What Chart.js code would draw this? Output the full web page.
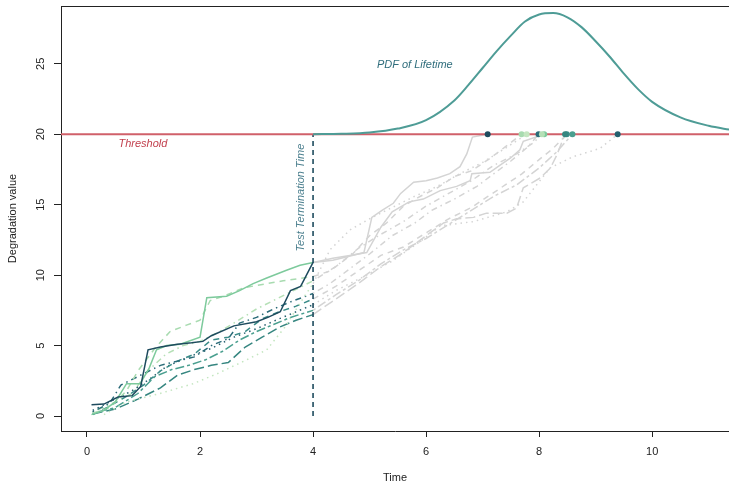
<!DOCTYPE html>
<html>
<head>
<meta charset="utf-8">
<script src="https://cdn.jsdelivr.net/npm/chart.js@4.4.0/dist/chart.umd.min.js"></script>
<style>
html, body { margin: 0; padding: 0; background: #fff; overflow: hidden; }
canvas { display: block; }
</style>
</head>
<body>
<canvas id="myChart" width="729" height="485"></canvas>
<script>
// axis ticks
var tickX = [0, 2, 4, 6, 8, 10];
var tickY = [0, 5, 10, 15, 20, 25];
var threshold = 20;
var stopTime = 4;

// pdf of lifetime
var pdfTime = [4, 4.5, 5, 5.5, 6, 6.5, 6.75, 7, 7.25, 7.5, 7.75, 8, 8.25, 8.5, 8.75, 9, 9.25, 9.5, 9.75, 10, 10.5, 11, 11.4];
var pdfValue = [20.0, 20.03, 20.12, 20.4, 21.0, 22.4, 23.5, 24.7, 25.9, 27.0, 28.0, 28.5, 28.6, 28.3, 27.6, 26.6, 25.5, 24.3, 23.2, 22.3, 21.2, 20.6, 20.3];

// degradation paths
var time1 = [0.08, 0.3, 0.55, 0.8, 0.95, 1.08, 1.3, 1.6, 1.85, 2.05, 2.2, 2.6, 3.0, 3.2, 3.42, 3.6, 3.78, 4.0, 4.35, 4.9, 5.04, 5.22, 5.42, 5.55, 5.78, 6.0, 6.2, 6.42, 6.6, 6.72, 6.82, 7.09];
var value1 = [0.8, 0.85, 1.35, 1.45, 2.1, 4.7, 4.9, 5.1, 5.2, 5.3, 5.7, 6.4, 6.7, 7.0, 7.4, 8.9, 9.2, 10.9, 11.05, 11.6, 14.1, 14.6, 15.1, 15.8, 16.6, 16.7, 16.9, 17.2, 17.7, 18.6, 19.8, 20];
var time2 = [0.08, 0.3, 0.5, 0.7, 0.94, 1.1, 1.23, 1.41, 1.65, 2.0, 2.12, 2.47, 2.7, 2.94, 3.18, 3.53, 3.77, 4.0, 4.35, 4.65, 4.95, 5.2, 5.4, 5.7, 5.95, 6.25, 6.54, 6.78, 6.81, 7.13, 7.31, 7.49, 7.66, 7.72, 8.09];
var value2 = [0.1, 0.4, 1.0, 2.3, 2.3, 3.4, 4.7, 5.0, 5.1, 5.6, 8.4, 8.5, 8.9, 9.4, 9.8, 10.35, 10.7, 10.9, 11.2, 11.4, 11.6, 13.4, 14.5, 15.2, 15.4, 16.0, 16.3, 16.7, 17.2, 17.3, 17.8, 18.3, 18.9, 19.5, 20];
var time3 = [0.1, 0.4, 0.7, 0.9, 1.2, 1.47, 1.76, 2.0, 2.18, 2.41, 2.77, 3.18, 3.47, 4.0, 4.3, 4.7, 5.0, 5.3, 5.6, 5.9, 6.2, 6.5, 6.8, 7.1, 7.4, 7.69];
var value3 = [0.2, 0.6, 1.8, 3.2, 4.8, 6.0, 6.45, 6.8, 8.2, 8.5, 9.1, 9.4, 9.6, 9.9, 10.3, 11.5, 12.8, 13.7, 14.9, 15.6, 16.2, 17.0, 17.4, 18.2, 19.1, 20];
var time4 = [0.3, 0.7, 1.29, 1.88, 2.3, 2.83, 3.18, 3.5, 3.8, 4.0, 4.3, 4.65, 5.0, 5.4, 5.8, 6.2, 6.6, 7.0, 7.4, 7.78];
var value4 = [0.1, 1.0, 1.6, 2.3, 3.0, 4.0, 4.7, 6.3, 8.2, 9.4, 11.8, 13.2, 14.0, 14.8, 15.6, 16.3, 17.2, 18.0, 19.0, 20];
var time5 = [0.1, 0.4, 0.6, 0.8, 1.0, 1.3, 1.6, 1.9, 2.2, 2.5, 2.7, 3.0, 3.3, 3.6, 4.0, 4.3, 4.7, 5.0, 5.4, 5.8, 6.1, 6.5, 6.9, 7.2, 7.5, 7.8, 7.99];
var value5 = [0.3, 0.9, 2.2, 2.6, 3.0, 3.6, 3.9, 4.2, 5.0, 5.5, 6.6, 7.0, 7.6, 8.1, 8.7, 9.4, 10.6, 11.5, 12.8, 13.7, 14.6, 15.4, 16.3, 17.2, 18.1, 19.1, 20];
var time6 = [0.1, 0.4, 0.7, 1.0, 1.3, 1.6, 1.9, 2.2, 2.5, 2.8, 3.1, 3.4, 3.7, 4.0, 4.4, 4.8, 5.2, 5.6, 6.0, 6.4, 6.8, 7.1, 7.4, 7.7, 8.0, 8.25, 8.49];
var value6 = [0.1, 0.7, 1.4, 2.2, 3.2, 3.9, 4.4, 5.4, 5.6, 6.0, 6.9, 7.4, 7.8, 8.3, 9.2, 10.3, 11.4, 12.0, 13.0, 14.0, 14.8, 15.6, 16.4, 17.2, 18.2, 19.0, 20];
var time7 = [0.1, 0.4, 0.8, 1.1, 1.4, 1.8, 2.2, 2.6, 3.0, 3.4, 3.7, 4.0, 4.4, 4.9, 5.4, 5.9, 6.25, 6.84, 7.43, 7.72, 8.19, 8.6, 9.08, 9.39];
var value7 = [0.4, 1.0, 1.8, 2.6, 3.5, 4.2, 4.8, 5.6, 6.2, 6.9, 7.4, 7.9, 8.9, 9.9, 11.0, 12.4, 13.5, 13.8, 14.5, 15.2, 17.6, 18.4, 19.0, 20];
var time8 = [0.1, 0.5, 0.9, 1.2, 1.5, 1.8, 2.1, 2.4, 2.7, 3.0, 3.3, 3.6, 4.0, 4.4, 4.8, 5.2, 5.6, 6.0, 6.4, 6.8, 7.2, 7.6, 8.0, 8.3, 8.59];
var value8 = [0.2, 0.6, 1.6, 2.8, 3.3, 3.6, 4.0, 4.6, 5.4, 6.0, 6.5, 7.0, 7.5, 8.6, 9.6, 10.8, 11.8, 12.6, 13.6, 14.6, 15.6, 16.4, 17.6, 18.7, 20];
var time9 = [0.1, 0.5, 0.9, 1.3, 1.6, 1.9, 2.2, 2.5, 2.8, 3.1, 3.4, 3.7, 4.0, 4.4, 4.8, 5.2, 5.6, 6.0, 6.31, 6.54, 6.84, 7.07, 7.43, 7.6, 7.72, 8.02, 8.2, 8.31, 8.46];
var value9 = [0.15, 0.5, 1.2, 2.0, 2.9, 3.3, 3.6, 3.8, 4.9, 5.6, 6.3, 6.8, 7.2, 8.3, 9.4, 10.6, 11.6, 12.8, 13.7, 14.0, 14.1, 14.4, 14.4, 14.75, 16.2, 16.9, 17.6, 18.5, 20];
var time10 = [0.1, 0.4, 0.8, 1.1, 1.4, 1.7, 2.0, 2.3, 2.6, 3.0, 3.4, 3.7, 4.0, 4.4, 4.8, 5.2, 5.6, 6.0, 6.4, 6.8, 7.2, 7.6, 7.9, 8.05];
var value10 = [0.3, 0.8, 1.6, 3.3, 4.4, 5.0, 5.3, 5.9, 6.6, 7.6, 8.4, 9.0, 9.6, 10.6, 11.9, 12.9, 13.8, 14.9, 15.8, 16.7, 17.8, 18.6, 19.4, 20];

var pathColors = ['#1e4b5e', '#7dca9c', '#a8dbb0', '#c4e6c0', '#2a6b78', '#3a8c88', '#245f6e', '#4a9f8f', '#368680', '#b5e0b6'];
var dotted = [1.5, 4], dashed = [6, 5], dotdash = [1.5, 4, 6, 4], longdash = [10, 4], twodash = [3, 3, 9, 3];
var pathDash = [[], [], dashed, dotted, dotdash, dashed, dotted, twodash, longdash, dotdash];

var pathTimes = [time1, time2, time3, time4, time5, time6, time7, time8, time9, time10];
var pathValues = [value1, value2, value3, value4, value5, value6, value7, value8, value9, value10];

var grey = '#d4d4d4';
var font = '"Liberation Sans", Arial, Helvetica, sans-serif';

function toPoints(ts, vs, keep) {
    var out = [];
    for (var i = 0; i < ts.length; i++) {
        if (keep(ts[i])) out.push({x: ts[i], y: vs[i]});
    }
    return out;
}

var datasets = [];

// threshold crossing dots (on top)
var dots = [], dotColors = [];
pathTimes.forEach(function(ts, i) {
    dots.push({x: ts[ts.length - 1], y: threshold});
    dotColors.push(pathColors[i]);
});
datasets.push({data: dots, showLine: false, pointRadius: 3, pointBorderWidth: 0,
    pointBackgroundColor: dotColors, order: 0});

// pdf curve
datasets.push({data: pdfTime.map(function(t, i) { return {x: t, y: pdfValue[i]}; }),
    borderColor: '#4e9c96', borderWidth: 2, pointRadius: 0, cubicInterpolationMode: 'monotone', order: 1});

// threshold line
datasets.push({data: [{x: -0.46, y: threshold}, {x: 11.5, y: threshold}],
    borderColor: '#d0606a', borderWidth: 2.2, pointRadius: 0, order: 2});

// test termination line
datasets.push({data: [{x: stopTime, y: 0}, {x: stopTime, y: threshold}],
    borderColor: '#1e4b5e', borderWidth: 1.6, borderDash: [5, 4], pointRadius: 0, order: 3});

// observed part, coloured
pathTimes.forEach(function(ts, i) {
    datasets.push({data: toPoints(ts, pathValues[i], function(t) { return t <= stopTime; }),
        borderColor: pathColors[i], borderWidth: 1.5, borderDash: pathDash[i], pointRadius: 0, tension: 0, order: 4});
});

// future part, grey
pathTimes.forEach(function(ts, i) {
    datasets.push({data: toPoints(ts, pathValues[i], function(t) { return t >= stopTime; }),
        borderColor: grey, borderWidth: 1.5, borderDash: pathDash[i], pointRadius: 0, tension: 0, order: 5});
});

var extras = {
    id: 'extras',
    afterDraw: function(chart) {
        var ctx = chart.ctx, a = chart.chartArea, x = chart.scales.x, y = chart.scales.y;
        ctx.save();
        // top of the box (the right side runs off the page)
        ctx.strokeStyle = '#222';
        ctx.lineWidth = 1;
        ctx.beginPath();
        ctx.moveTo(a.left, a.top + 0.5);
        ctx.lineTo(chart.width, a.top + 0.5);
        ctx.stroke();

        // y tick labels, rotated like R
        ctx.font = '11px ' + font;
        ctx.fillStyle = '#222';
        ctx.textAlign = 'center';
        ctx.textBaseline = 'middle';
        tickY.forEach(function(v) {
            ctx.save();
            ctx.translate(41, y.getPixelForValue(v));
            ctx.rotate(-Math.PI / 2);
            ctx.fillText(String(v), 0, 0);
            ctx.restore();
        });

        // annotations
        ctx.font = 'italic 11px ' + font;
        ctx.fillStyle = '#c2404e';
        ctx.fillText('Threshold', x.getPixelForValue(0.99), y.getPixelForValue(19.3));
        ctx.fillStyle = '#2f6d7c';
        ctx.fillText('PDF of Lifetime', x.getPixelForValue(5.8), y.getPixelForValue(24.9));
        ctx.fillStyle = '#4b7f8e';
        ctx.save();
        ctx.translate(x.getPixelForValue(3.78), y.getPixelForValue(15.5));
        ctx.rotate(-Math.PI / 2);
        ctx.fillText('Test Termination Time', 0, 0);
        ctx.restore();
        ctx.restore();
    }
};

new Chart(document.getElementById('myChart').getContext('2d'), {
    type: 'line',
    data: {datasets: datasets},
    options: {
        responsive: false,
        animation: false,
        layout: {autoPadding: false, padding: {top: 6, right: 0, left: 0, bottom: 0}},
        plugins: {legend: {display: false}, tooltip: {enabled: false}},
        scales: {
            x: {
                type: 'linear',
                min: -0.46,
                max: 11.36,
                afterBuildTicks: function(s) { s.ticks = tickX.map(function(v) { return {value: v}; }); },
                afterFit: function(s) { s.height = 54; },
                grid: {drawOnChartArea: false, drawTicks: true, tickLength: 6, tickColor: '#222', color: '#222'},
                border: {display: true, color: '#222', width: 1},
                ticks: {color: '#222', font: {family: font, size: 11}, padding: 8, maxRotation: 0},
                title: {display: true, text: 'Time', color: '#222', font: {family: font, size: 11}, padding: {top: 0, bottom: 0}}
            },
            y: {
                type: 'linear',
                min: -1.06,
                max: 29.1,
                afterBuildTicks: function(s) { s.ticks = tickY.map(function(v) { return {value: v}; }); },
                afterFit: function(s) { s.width = 61; },
                grid: {drawOnChartArea: false, drawTicks: true, tickLength: 7, tickColor: '#222', color: '#222'},
                border: {display: true, color: '#222', width: 1},
                ticks: {display: false},
                title: {display: true, text: 'Degradation value', color: '#222', font: {family: font, size: 11}, padding: {top: 6, bottom: 0}}
            }
        }
    },
    plugins: [extras]
});
</script>
</body>
</html>
